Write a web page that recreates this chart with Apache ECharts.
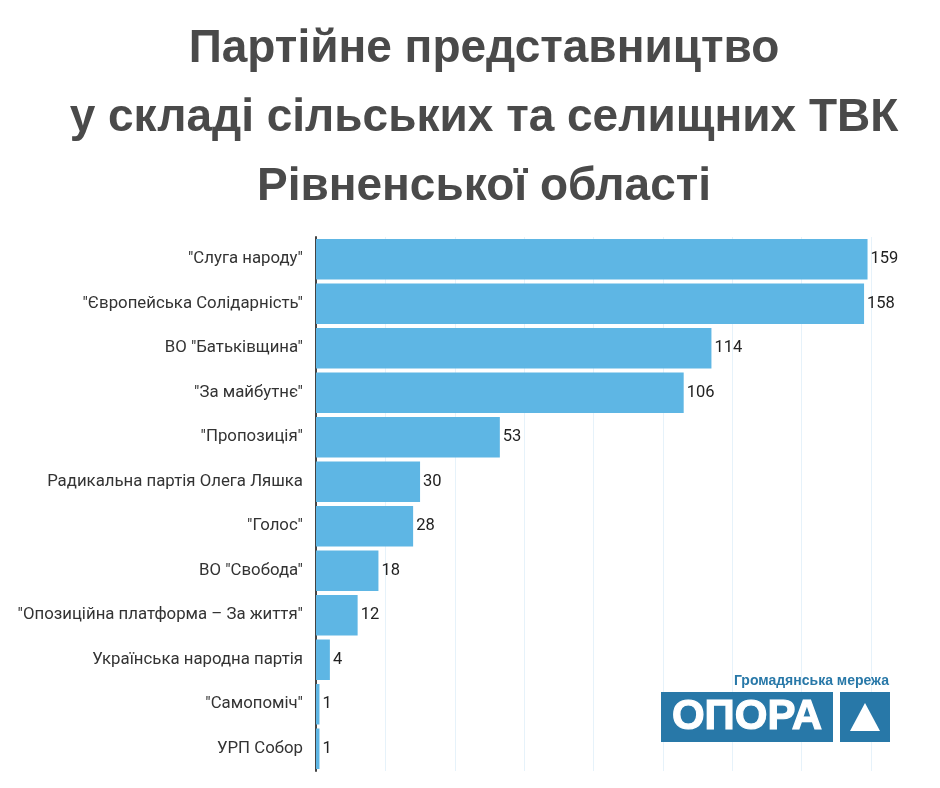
<!DOCTYPE html>
<html>
<head>
    <meta charset="utf-8">
    <title>ТВК Рівненської області</title>
    <script src="https://cdn.jsdelivr.net/npm/echarts@6/dist/echarts.min.js"></script>
    <style>
        html, body { margin: 0; padding: 0; background: #fff; }
    </style>
</head>
<body>
    <div id="main" style="width: 940px;height:788px;"></div>
    <script type="text/javascript">
        // партії (зверху вниз) і кількість представників
        var parties = [
            '"Слуга народу"',
            '"Європейська Солідарність"',
            'ВО "Батьківщина"',
            '"За майбутнє"',
            '"Пропозиція"',
            'Радикальна партія Олега Ляшка',
            '"Голос"',
            'ВО "Свобода"',
            '"Опозиційна платформа – За життя"',
            'Українська народна партія',
            '"Самопоміч"',
            'УРП Собор'
        ];
        var members = [159, 158, 114, 106, 53, 30, 28, 18, 12, 4, 1, 1];

        var titleText = 'Партійне представництво\nу складі сільських та селищних ТВК\nРівненської області';
        var logoCaption = 'Громадянська мережа';
        var logoName = 'ОПОРА';

        var logoBlue = '#2878a8';

        var myChart = echarts.init(document.getElementById('main'));
        var option = {
            backgroundColor: '#fff',
            title: {
                text: titleText,
                left: 479,
                textAlign: 'center',
                top: 10,
                textStyle: {
                    fontFamily: 'Liberation Sans, Arial, sans-serif',
                    fontSize: 46,
                    fontWeight: 'bold',
                    color: '#4a4a4a',
                    lineHeight: 69
                }
            },
            grid: {
                left: 316,
                right: 69,
                top: 237,
                bottom: 17
            },
            xAxis: {
                type: 'value',
                min: 0,
                max: 160,
                interval: 20,
                axisLine: { show: false },
                axisTick: { show: false },
                axisLabel: { show: false },
                splitLine: {
                    show: true,
                    lineStyle: { color: '#e6f2fa', width: 1 }
                }
            },
            yAxis: {
                type: 'category',
                inverse: true,
                data: parties,
                axisLine: {
                    show: true,
                    lineStyle: { color: '#444', width: 2 }
                },
                axisTick: { show: false },
                axisLabel: {
                    margin: 13,
                    fontFamily: 'Roboto, sans-serif',
                    fontSize: 16.8,
                    color: '#333'
                }
            },
            series: [{
                type: 'bar',
                data: members,
                barCategoryGap: '9%',
                itemStyle: { color: '#5eb6e4' },
                label: {
                    show: true,
                    position: 'right',
                    distance: 3,
                    fontFamily: 'Roboto, sans-serif',
                    fontSize: 16.5,
                    color: '#222'
                }
            }],
            graphic: [
                {
                    type: 'text',
                    right: 51,
                    top: 674,
                    z: 100,
                    style: {
                        text: logoCaption,
                        fontFamily: 'Liberation Sans, Arial, sans-serif',
                        fontWeight: 'bold',
                        fontSize: 14,
                        fill: logoBlue
                    }
                },
                {
                    type: 'rect',
                    z: 100,
                    shape: { x: 661, y: 692, width: 172, height: 50 },
                    style: { fill: logoBlue }
                },
                {
                    type: 'text',
                    x: 747,
                    y: 717,
                    z: 101,
                    style: {
                        text: logoName,
                        align: 'center',
                        verticalAlign: 'middle',
                        fontFamily: 'Liberation Sans, Arial, sans-serif',
                        fontWeight: 'bold',
                        fontSize: 42,
                        fill: '#fff',
                        stroke: '#fff',
                        lineWidth: 1.2
                    }
                },
                {
                    type: 'rect',
                    z: 100,
                    shape: { x: 840, y: 692, width: 50, height: 50 },
                    style: { fill: logoBlue }
                },
                {
                    type: 'polygon',
                    z: 101,
                    shape: { points: [[865, 703], [880, 731], [850, 731]] },
                    style: { fill: '#fff' }
                }
            ]
        };

        myChart.setOption(option);
    </script>
</body>
</html>
